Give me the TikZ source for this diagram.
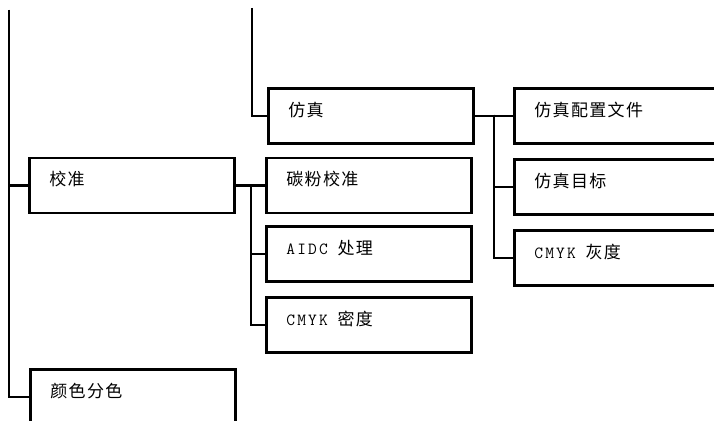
\documentclass[tikz,border=0pt]{standalone}
\usepackage{fontspec}
\setmonofont{Latin Modern Mono}[LetterSpace=13]
\newfontfamily\cjk{Noto Sans CJK SC}[LetterSpace=8]
\usetikzlibrary{positioning}
\newcommand{\cgap}{\hspace{4pt} }

\begin{document}
\begin{tikzpicture}[x=1pt, y=-1pt, line width=2.6pt,
    menubox/.style={draw, anchor=north west, inner xsep=20pt, inner ysep=0pt,
        text width=165pt, align=left, text height=28pt, text depth=27pt,
        font=\fontsize{17}{20}\selectfont\ttfamily}]
    \useasboundingbox (0,0) rectangle (714,420);
    \clip (0,0) rectangle (714,420);

    % Menu boxes, left column
    \node[menubox] (calib) at (28,156.5) {{\cjk 校准}};
    \node[menubox] (sep) at (29,368) {{\cjk 颜色分色}};

    % Middle column
    \node[menubox] (emul) at (267,87) {{\cjk 仿真}};
    \node[menubox] (toner) at (265,156.5) {{\cjk 碳粉校准}};
    \node[menubox] (aidc) at (265,225) {AIDC\cgap{\cjk 处理}};
    \node[menubox] (dens) at (265,296) {CMYK\cgap{\cjk 密度}};

    % Right column
    \node[menubox] (profile) at (513,87) {{\cjk 仿真配置文件}};
    \node[menubox] (target) at (513,158) {{\cjk 仿真目标}};
    \node[menubox] (gray) at (513,229) {CMYK\cgap{\cjk 灰度}};

    % Trunk lines
    \coordinate (ltop) at (9,10);
    \coordinate (mtop) at (252,8);
    \draw (ltop) |- (calib.west);
    \draw (ltop) |- (sep.west);
    \draw (mtop) |- (emul.west);

    % Branches of calib
    \draw (calib.east) -- (toner.west);
    \coordinate (cjoin) at (251,184);
    \draw (cjoin) |- (aidc.west);
    \draw (cjoin) |- (dens.west);

    % Branches of emul
    \draw (emul.east) -- (profile.west);
    \coordinate (ejoin) at (494,114.5);
    \draw (ejoin) |- (target.west);
    \draw (ejoin) |- (gray.west);
\end{tikzpicture}
\end{document}
